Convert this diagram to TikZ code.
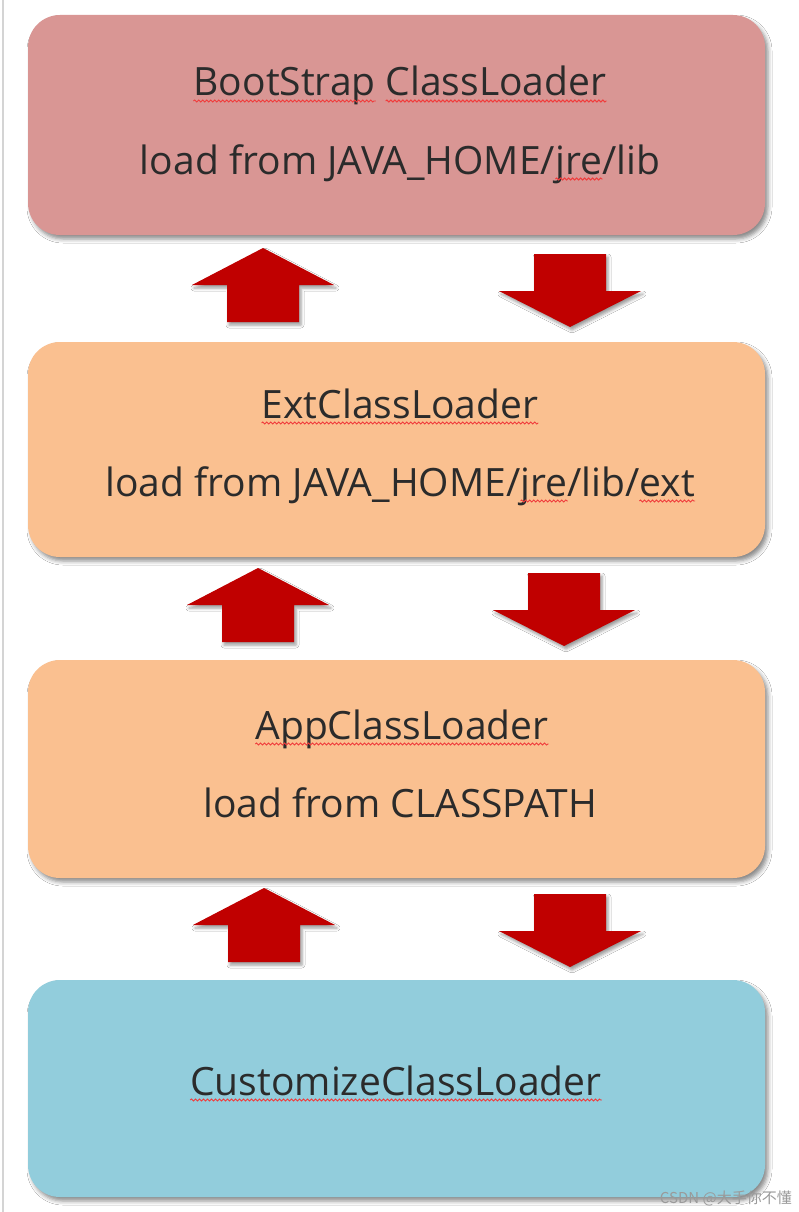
\documentclass[tikz,border=0pt]{standalone}
\usepackage{fontspec}
\setmainfont{Open Sans}
\newfontfamily\cjkfont{Noto Sans CJK SC}
\usetikzlibrary{shadows.blur,decorations.pathmorphing}
\definecolor{bootred}{HTML}{D99694}
\definecolor{peach}{HTML}{FAC090}
\definecolor{skyblue}{HTML}{92CDDC}
\definecolor{arrowred}{HTML}{C00000}
\definecolor{txtgray}{HTML}{2B2B2B}
\definecolor{squigred}{HTML}{F03C3C}
\definecolor{edgegray}{HTML}{D4D4D4}
\definecolor{wmgray}{HTML}{9A9A9A}
\tikzset{
  box/.style={rectangle, rounded corners=32pt, minimum width=737pt, inner sep=0pt, draw=none,
    blur shadow={shadow xshift=3pt, shadow yshift=-4pt, shadow blur radius=4pt, shadow opacity=45}},
  txt/.style={font=\fontsize{39}{46}\selectfont, text=txtgray, inner sep=0pt, anchor=base},
  ph/.style={font=\fontsize{39}{46}\selectfont, inner sep=0pt},
  squig/.style={decorate, decoration={snake, amplitude=1pt, segment length=4pt}, draw=squigred, line width=0.9pt},
  arrshadow/.style={blur shadow={shadow xshift=2pt, shadow yshift=-3pt, shadow blur radius=3pt, shadow opacity=40}},
  uparr/.pic={\fill[arrowred, arrshadow] (0,0) -- (71,37) -- (36,37) -- (36,74) -- (-36,74) -- (-36,37) -- (-71,37) -- cycle;},
  downarr/.pic={\fill[arrowred, arrshadow] (0,0) -- (71,-36) -- (36,-36) -- (36,-73) -- (-36,-73) -- (-36,-36) -- (-71,-36) -- cycle;}
}
\begin{document}
\begin{tikzpicture}[x=1pt,y=-1pt]
\useasboundingbox (0,0) rectangle (798,1212);
\fill[white] (0,0) rectangle (798,1212);
\draw[edgegray, line width=2pt] (3,0) -- (3,1212);

% boxes
\node[box, fill=bootred, minimum height=220pt] (boot) at (396.5,125) {};
\node[box, fill=peach, minimum height=215pt] (ext) at (396.5,449.5) {};
\node[box, fill=peach, minimum height=218pt] (app) at (396.5,769) {};
\node[box, fill=skyblue, minimum height=217pt] (cust) at (396.5,1088.5) {};

% arrows
\pic at (263,248) {uparr};
\pic at (570,327) {downarr};
\pic at (258,568) {uparr};
\pic at (564,646) {downarr};
\pic at (264,888) {uparr};
\pic at (570,967) {downarr};

% texts
\node[txt] (bootA) at (400,96) {BootStrap ClassLoader};
\node[txt] (bootB) at (400,174) {load from JAVA\_HOME/jre/lib};
\node[txt] (extA) at (400,418) {ExtClassLoader};
\node[txt] (extB) at (400,496) {load from JAVA\_HOME/jre/lib/ext};
\node[txt] (appA) at (402,739) {AppClassLoader};
\node[txt] (appB) at (400,817) {load from CLASSPATH};
\node[txt] (custA) at (396,1095) {CustomizeClassLoader};

% helper phantoms for spell-check underlines
\node[ph, anchor=base west] (bootA1) at (bootA.base west) {\phantom{BootStrap}};
\node[ph, anchor=base east] (bootA2) at (bootA.base east) {\phantom{ClassLoader}};
\node[ph, anchor=base west] (bootBp) at (bootB.base west) {\phantom{load from JAVA\_HOME/}};
\node[ph, anchor=base west] (bootBj) at (bootBp.base east) {\phantom{jre}};
\node[ph, anchor=base west] (extBp) at (extB.base west) {\phantom{load from JAVA\_HOME/}};
\node[ph, anchor=base west] (extBj) at (extBp.base east) {\phantom{jre}};
\node[ph, anchor=base east] (extBe) at (extB.base east) {\phantom{ext}};

\draw[squig] ([yshift=-5pt]bootA1.base west) -- ([yshift=-5pt]bootA1.base east);
\draw[squig] ([yshift=-5pt]bootA2.base west) -- ([yshift=-5pt]bootA2.base east);
\draw[squig] ([yshift=-5pt]bootBj.base west) -- ([yshift=-5pt]bootBj.base east);
\draw[squig] ([yshift=-5pt]extA.base west) -- ([yshift=-5pt]extA.base east);
\draw[squig] ([yshift=-5pt]extBj.base west) -- ([yshift=-5pt]extBj.base east);
\draw[squig] ([yshift=-5pt]extBe.base west) -- ([yshift=-5pt]extBe.base east);
\draw[squig] ([yshift=-5pt]appA.base west) -- ([yshift=-5pt]appA.base east);
\draw[squig] ([yshift=-5pt]custA.base west) -- ([yshift=-5pt]custA.base east);

% watermark
\node[font=\cjkfont\fontsize{15}{17}\selectfont, text=wmgray, inner sep=0pt, anchor=base east] (wm) at (792,1203) {CSDN @大手你不懂};
\end{tikzpicture}
\end{document}
